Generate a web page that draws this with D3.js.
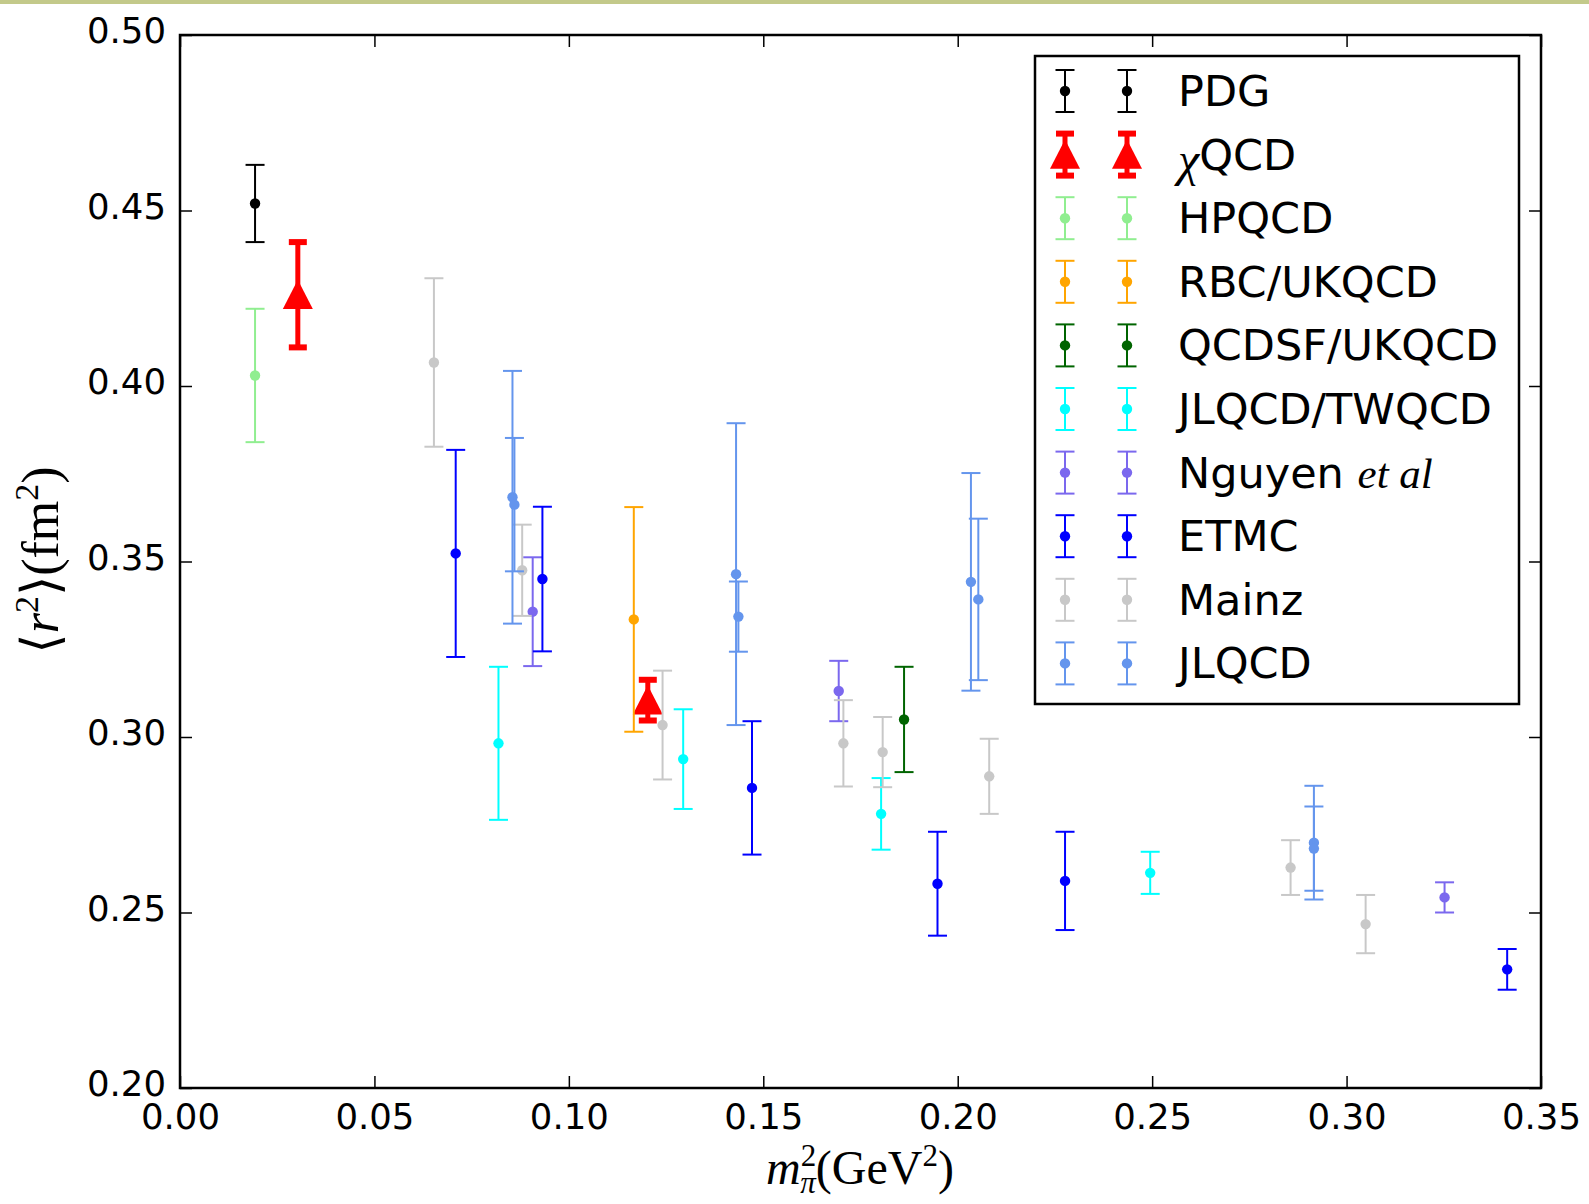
<!DOCTYPE html>
<html><head><meta charset="utf-8">
<script src="https://cdn.jsdelivr.net/npm/d3@7"></script>
<style>body{margin:0;background:#fff}svg{display:block}</style>
</head><body>
<script>
// ---- data ----
const seriesNames = ["PDG","χQCD","HPQCD","RBC/UKQCD","QCDSF/UKQCD","JLQCD/TWQCD","Nguyen et al","ETMC","Mainz","JLQCD"];
const seriesColors = ["#000000","#ff0000","#90ee90","#ffa500","#006400","#00ffff","#7b68ee","#0000ff","#c8c8c8","#6495ed"];
const pdgX = [0.0193], pdgY = [0.452], pdgErr = [0.011];
const chiX = [0.0303, 0.1203], chiY = [0.426, 0.3105], chiErr = [0.015, 0.0058];
const hpqcdX = [0.0193], hpqcdY = [0.403], hpqcdErr = [0.019];
const rbcX = [0.1167], rbcY = [0.3335], rbcErr = [0.032];
const qcdsfX = [0.1862], qcdsfY = [0.305], qcdsfErr = [0.015];
const twqcdX = [0.0819, 0.1294, 0.1803, 0.2495], twqcdY = [0.2982, 0.2937, 0.2781, 0.2613], twqcdErr = [0.0218, 0.0142, 0.0102, 0.006];
const nguyenX = [0.0907, 0.1694, 0.3252], nguyenY = [0.3357, 0.3131, 0.2543], nguyenErr = [0.0155, 0.0086, 0.0043];
const etmcX = [0.0709, 0.0932, 0.1471, 0.1948, 0.2276, 0.3413], etmcY = [0.3523, 0.345, 0.2855, 0.2582, 0.259, 0.2338], etmcErr = [0.0295, 0.0206, 0.019, 0.0148, 0.014, 0.0058];
const mainzX = [0.0653, 0.088, 0.1241, 0.1706, 0.1807, 0.2081, 0.2856, 0.3049], mainzY = [0.4067, 0.3475, 0.3034, 0.2982, 0.2957, 0.2888, 0.2628, 0.2467], mainzErr = [0.024, 0.013, 0.0155, 0.0123, 0.010, 0.0107, 0.0078, 0.0083];
const jlqcdX = [0.0855, 0.0860, 0.1430, 0.1436, 0.2034, 0.2053, 0.2916, 0.2916], jlqcdY = [0.3683, 0.3662, 0.3464, 0.3343, 0.3442, 0.3392, 0.2699, 0.2682], jlqcdErr = [0.036, 0.019, 0.043, 0.010, 0.031, 0.023, 0.0162, 0.012];
const xTicks = [0.00,0.05,0.10,0.15,0.20,0.25,0.30,0.35];
const yTicks = [0.20,0.25,0.30,0.35,0.40,0.45,0.50];

const seriesX = [pdgX, chiX, hpqcdX, rbcX, qcdsfX, twqcdX, nguyenX, etmcX, mainzX, jlqcdX];
const seriesY = [pdgY, chiY, hpqcdY, rbcY, qcdsfY, twqcdY, nguyenY, etmcY, mainzY, jlqcdY];
const seriesE = [pdgErr, chiErr, hpqcdErr, rbcErr, qcdsfErr, twqcdErr, nguyenErr, etmcErr, mainzErr, jlqcdErr];

// ---- layout ----
const W = 1589, H = 1204;
const L = 180, R = 1541, T = 35, B = 1088;
const svg = d3.select("body").append("svg").attr("width", W).attr("height", H);
svg.append("rect").attr("width", W).attr("height", H).attr("fill", "#fff");
svg.append("rect").attr("x", 0).attr("y", 0).attr("width", W).attr("height", 4).attr("fill", "#c3c98a");

const x = d3.scaleLinear().domain([0, 0.35]).range([L, R]);
const y = d3.scaleLinear().domain([0.20, 0.50]).range([B, T]);

const font = "'DejaVu Sans', sans-serif";
const serif = "'Liberation Serif', 'DejaVu Serif', serif";

// axes with inward ticks on all four sides
const tickLen = 12;
function styleAxis(g) {
  g.select(".domain").remove();
  g.selectAll(".tick line").attr("stroke", "#000").attr("stroke-width", 1.5);
  g.selectAll("text").attr("font-family", font).attr("font-size", 35.5).attr("fill", "#000");
}
svg.append("g").attr("transform", `translate(0,${B})`)
  .call(d3.axisBottom(x).tickValues(xTicks).tickFormat(d3.format(".2f")).tickSizeInner(-tickLen).tickSizeOuter(0).tickPadding(16))
  .call(styleAxis);
svg.append("g").attr("transform", `translate(0,${T})`)
  .call(d3.axisTop(x).tickValues(xTicks).tickFormat("").tickSizeInner(-tickLen).tickSizeOuter(0))
  .call(styleAxis);
svg.append("g").attr("transform", `translate(${L},0)`)
  .call(d3.axisLeft(y).tickValues(yTicks).tickFormat(d3.format(".2f")).tickSizeInner(-tickLen).tickSizeOuter(0).tickPadding(14))
  .call(styleAxis)
  .call(g => g.selectAll("text").attr("dy", "0.22em"));
svg.append("g").attr("transform", `translate(${R},0)`)
  .call(d3.axisRight(y).tickValues(yTicks).tickFormat("").tickSizeInner(-tickLen).tickSizeOuter(0))
  .call(styleAxis);

// ---- error bars ----
const plot = svg.append("g");
function drawErr(g, cx, cy, top, bot, color, isChi) {
  const lw = isChi ? 5 : 2, cw = isChi ? 9 : 9.5, ct = isChi ? 6 : 2;
  g.append("line").attr("x1", cx).attr("x2", cx).attr("y1", top).attr("y2", bot).attr("stroke", color).attr("stroke-width", lw);
  [top, bot].forEach(yy => g.append("line").attr("x1", cx - cw).attr("x2", cx + cw).attr("y1", yy).attr("y2", yy)
    .attr("stroke", color).attr("stroke-width", ct));
  if (isChi) {
    const s = 15;
    g.append("path").attr("d", `M${cx},${cy - s} L${cx + s},${cy + s * 0.95} L${cx - s},${cy + s * 0.95} Z`).attr("fill", color);
  } else {
    g.append("circle").attr("cx", cx).attr("cy", cy).attr("r", 5.2).attr("fill", color);
  }
}
seriesNames.forEach((name, i) => {
  const g = plot.append("g");
  seriesX[i].forEach((xv, j) => {
    const yv = seriesY[i][j], ev = seriesE[i][j];
    drawErr(g, x(xv), y(yv), y(yv + ev), y(yv - ev), seriesColors[i], i === 1);
  });
});

// frame
svg.append("rect").attr("x", L).attr("y", T).attr("width", R - L).attr("height", B - T)
  .attr("fill", "none").attr("stroke", "#000").attr("stroke-width", 2.5);

// ---- legend ----
const lg = svg.append("g");
lg.append("rect").attr("x", 1035).attr("y", 56).attr("width", 484).attr("height", 648)
  .attr("fill", "#fff").attr("stroke", "#000").attr("stroke-width", 2.5);
seriesNames.forEach((name, i) => {
  const cy = 91 + i * 63.6;
  [1065, 1127].forEach(cx => drawErr(lg, cx, cy, cy - 21, cy + 21, seriesColors[i], i === 1));
  const t = lg.append("text").attr("x", 1178).attr("y", cy + 15).attr("font-family", font).attr("font-size", 43).attr("fill", "#000");
  if (i === 1) {
    t.append("tspan").attr("font-family", serif).attr("font-style", "italic").attr("font-size", 48).attr("dy", 6).text("χ");
    t.append("tspan").attr("dy", -6).text("QCD");
  } else if (i === 6) {
    t.append("tspan").text("Nguyen ");
    t.append("tspan").attr("font-family", serif).attr("font-style", "italic").text("et al");
  } else {
    t.text(name);
  }
});

// ---- axis labels ----
const xl = svg.append("text").attr("x", 860).attr("y", 1184).attr("text-anchor", "middle")
  .attr("font-family", serif).attr("font-size", 48).attr("fill", "#000");
xl.append("tspan").attr("font-style", "italic").text("m");
xl.append("tspan").attr("dy", -18).attr("font-size", 31).text("2");
xl.append("tspan").attr("dx", -16).attr("dy", 27).attr("font-size", 31).attr("font-style", "italic").text("π");
xl.append("tspan").attr("dy", -9).text("(GeV");
xl.append("tspan").attr("dy", -18).attr("font-size", 31).text("2");
xl.append("tspan").attr("dy", 18).text(")");

const yl = svg.append("text").attr("transform", "translate(58,560) rotate(-90)").attr("text-anchor", "middle")
  .attr("font-family", serif).attr("font-size", 52).attr("fill", "#000");
yl.append("tspan").text("⟨");
yl.append("tspan").attr("font-style", "italic").text("r");
yl.append("tspan").attr("dy", -20).attr("font-size", 34).text("2");
yl.append("tspan").attr("dy", 20).text("⟩(fm");
yl.append("tspan").attr("dy", -20).attr("font-size", 34).text("2");
yl.append("tspan").attr("dy", 20).text(")");
</script>
</body></html>
